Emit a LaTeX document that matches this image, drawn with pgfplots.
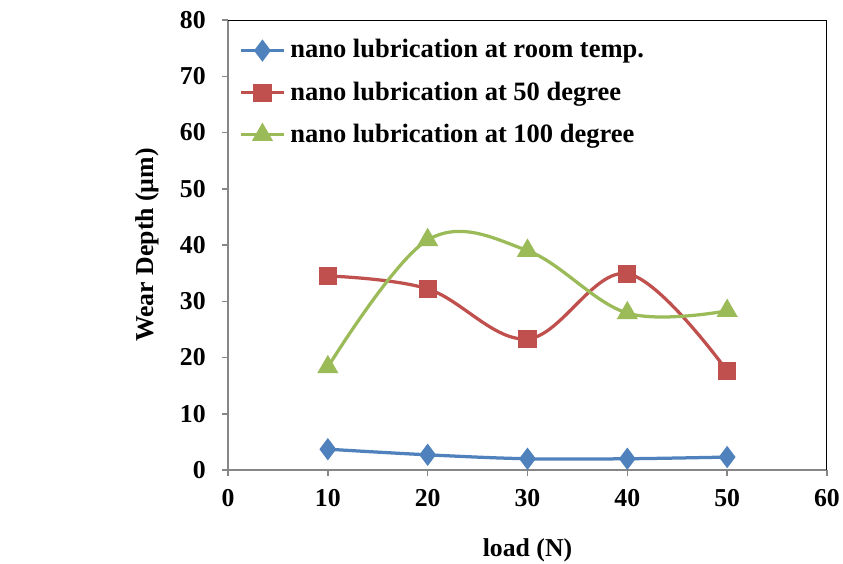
\documentclass[border=0pt]{standalone}
\usepackage{fontspec}
\setmainfont{Liberation Serif}
\usepackage{pgfplots}
\pgfplotsset{compat=1.18}
\definecolor{sblue}{HTML}{4F81BD}
\definecolor{sred}{HTML}{C0504D}
\definecolor{sgreen}{HTML}{9BBB59}
\definecolor{axgray}{HTML}{868686}
\begin{document}
\begin{tikzpicture}
\begin{axis}[
  scale only axis, width=239.6pt, height=180pt,
  at={(0,0)}, anchor=south west,
  xmin=0, xmax=60, ymin=0, ymax=80,
  xtick={0,10,...,60}, ytick={0,10,...,80},
  axis x line*=bottom, axis y line*=left,
  axis line style={draw=axgray, line width=0.6pt, -},
  tick style={draw=axgray, line width=0.6pt},
  tick align=outside, major tick length=2.4pt,
  ticklabel style={font=\fontsize{10.3}{12}\selectfont\bfseries},
  /pgf/number format/assume math mode=true,
  xticklabel style={yshift=-2pt},
  yticklabel style={xshift=-3pt},
  label style={font=\fontsize{10.3}{12}\selectfont\bfseries},
  xlabel={load (N)}, ylabel={Wear Depth (µm)},
  xlabel style={at={(axis description cs:0.5,-0.178)}, anchor=center},
  ylabel style={at={(axis description cs:-0.135,0.5)}, anchor=center},
  legend style={draw=none, fill=none, at={(rel axis cs:0.01,0.98)}, anchor=north west,
    font=\fontsize{10.6}{12}\selectfont\bfseries, row sep=4pt, inner sep=2pt},
  legend cell align=left,
  every axis plot/.append style={line width=1.3pt, smooth, tension=0.6},
]
\addplot[color=sblue, mark=diamond*, mark size=3.4pt, mark options={fill=sblue}]
  coordinates {(10,3.7) (20,2.7) (30,2.0) (40,2.0) (50,2.3)};
\addlegendentry{nano lubrication at room temp.}
\addplot[color=sred, mark=square*, mark size=3pt, mark options={fill=sred}]
  coordinates {(10,34.5) (20,32.2) (30,23.3) (40,34.9) (50,17.6)};
\addlegendentry{nano lubrication at 50 degree}
\addplot[color=sgreen, mark=triangle*, mark size=3.6pt, mark options={fill=sgreen}]
  coordinates {(10,18.3) (20,40.9) (30,39.0) (40,27.9) (50,28.3)};
\addlegendentry{nano lubrication at 100 degree}
\draw[black, line width=0.6pt] (rel axis cs:0,1) -- (rel axis cs:1,1) -- (rel axis cs:1,0);
\end{axis}
\pgfresetboundingbox
\path[use as bounding box] (-91.2pt,-37.2pt) rectangle (246pt,188pt);
\end{tikzpicture}
\end{document}
